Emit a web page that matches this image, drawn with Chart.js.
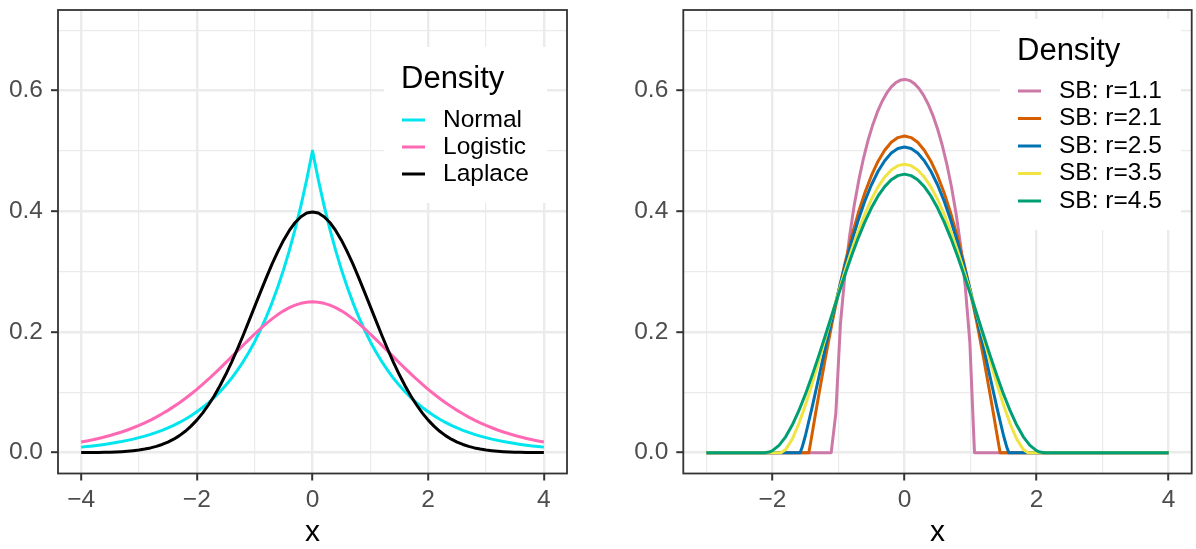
<!DOCTYPE html>
<html>
<head>
<meta charset="utf-8">
<script src="https://cdn.jsdelivr.net/npm/chart.js@4.4.1/dist/chart.umd.min.js"></script>
<style>
  html, body { margin: 0; padding: 0; background: #fff; }
  #wrap { position: relative; width: 1196px; height: 549px; }
  canvas { position: absolute; top: 0; }
  #cLeft { left: 0; }
  #cRight { left: 600px; }
</style>
</head>
<body>
<div id="wrap">
  <canvas id="cLeft" width="600" height="549"></canvas>
  <canvas id="cRight" width="596" height="549"></canvas>
</div>
<script>
// ---- data: left panel (x grid and three densities) ----
const leftX = [-4,-3.9,-3.8,-3.7,-3.6,-3.5,-3.4,-3.3,-3.2,-3.1,-3,-2.9,-2.8,-2.7,-2.6,-2.5,-2.4,-2.3,-2.2,-2.1,
  -2,-1.9,-1.8,-1.7,-1.6,-1.5,-1.4,-1.3,-1.2,-1.1,-1,-0.9,-0.8,-0.7,-0.6,-0.5,-0.4,-0.3,-0.2,-0.1,
  0,0.1,0.2,0.3,0.4,0.5,0.6,0.7,0.8,0.9,1,1.1,1.2,1.3,1.4,1.5,1.6,1.7,1.8,1.9,
  2,2.1,2.2,2.3,2.4,2.5,2.6,2.7,2.8,2.9,3,3.1,3.2,3.3,3.4,3.5,3.6,3.7,3.8,3.9,4];

const normalY = [.0092,.0101,.0112,.0124,.0137,.0151,.0167,.0184,.0204,.0225,.0249,.0275,.0304,.0336,.0371,.0410,.0454,.0501,.0554,.0612,
  .0677,.0748,.0826,.0913,.1009,.1116,.1233,.1363,.1506,.1664,.1839,.2033,.2247,.2483,.2744,.3033,.3352,.3704,.4094,.4524,
  .5000,
  .4524,.4094,.3704,.3352,.3033,.2744,.2483,.2247,.2033,.1839,.1664,.1506,.1363,.1233,.1116,.1009,.0913,.0826,.0748,.0677,
  .0612,.0554,.0501,.0454,.0410,.0371,.0336,.0304,.0275,.0249,.0225,.0204,.0184,.0167,.0151,.0137,.0124,.0112,.0101,.0092];

const logisticY = [.0177,.0195,.0214,.0236,.0259,.0285,.0313,.0343,.0376,.0413,.0452,.0494,.0540,.0590,.0644,.0701,.0763,.0828,.0898,.0972,
  .1050,.1132,.1217,.1306,.1398,.1491,.1587,.1683,.1779,.1874,.1966,.2055,.2139,.2217,.2288,.2350,.2403,.2445,.2475,.2494,
  .2500,
  .2494,.2475,.2445,.2403,.2350,.2288,.2217,.2139,.2055,.1966,.1874,.1779,.1683,.1587,.1491,.1398,.1306,.1217,.1132,.1050,
  .0972,.0898,.0828,.0763,.0701,.0644,.0590,.0540,.0494,.0452,.0413,.0376,.0343,.0313,.0285,.0259,.0236,.0214,.0195,.0177];

const laplaceY = [.0001,.0002,.0003,.0004,.0006,.0009,.0012,.0017,.0024,.0033,.0044,.0060,.0079,.0104,.0136,.0175,.0224,.0283,.0355,.0440,
  .0540,.0656,.0790,.0940,.1109,.1295,.1497,.1714,.1942,.2179,.2420,.2661,.2897,.3123,.3332,.3521,.3683,.3814,.3910,.3970,
  .3989,
  .3970,.3910,.3814,.3683,.3521,.3332,.3123,.2897,.2661,.2420,.2179,.1942,.1714,.1497,.1295,.1109,.0940,.0790,.0656,.0540,
  .0440,.0355,.0283,.0224,.0175,.0136,.0104,.0079,.0060,.0044,.0033,.0024,.0017,.0012,.0009,.0006,.0004,.0003,.0002,.0001];

// ---- data: right panel (SB densities) ----
const sb11X = [-3,-1.11,-1.04,-0.97,-0.9,-0.83,-0.76,-0.69,-0.62,-0.55,-0.48,-0.41,-0.34,-0.27,-0.2,-0.13,-0.06,
  0.01,0.08,0.15,0.22,0.29,0.36,0.43,0.5,0.57,0.64,0.71,0.78,0.85,0.92,0.99,1.06,4];
const sb11Y = [0,0,.0652,.2136,.2971,.3599,.4107,.4528,.4882,.5182,.5435,.5646,.5819,.5956,.6060,.6133,.6174,
  .6185,.6165,.6115,.6034,.5920,.5773,.5590,.5367,.5102,.4787,.4415,.3972,.3435,.2760,.1827,0,0];

const sb21X = [-3,-1.4491,-1.43,-1.4,-1.35,-1.3,-1.2,-1.1,-1,-0.9,-0.8,-0.7,-0.6,-0.5,-0.4,-0.3,-0.2,-0.1,
  0,0.1,0.2,0.3,0.4,0.5,0.6,0.7,0.8,0.9,1,1.1,1.2,1.3,1.35,1.4,1.43,1.4491,4];
const sb21Y = [0,0,.0115,.0306,.0627,.0944,.1557,.2131,.2661,.3146,.3583,.3970,.4307,.4594,.4829,.5012,.5143,.5221,
  .5248,.5221,.5143,.5012,.4829,.4594,.4307,.3970,.3583,.3146,.2661,.2131,.1557,.0944,.0627,.0306,.0115,0,0];

const sb25X = [-3,-1.5811,-1.55,-1.5,-1.4,-1.3,-1.2,-1.1,-1,-0.9,-0.8,-0.7,-0.6,-0.5,-0.4,-0.3,-0.2,-0.1,
  0,0.1,0.2,0.3,0.4,0.5,0.6,0.7,0.8,0.9,1,1.1,1.2,1.3,1.4,1.5,1.55,1.5811,4];
const sb25Y = [0,0,.0088,.0285,.0746,.1238,.1733,.2215,.2675,.3105,.3500,.3856,.4171,.4440,.4663,.4838,.4964,.5040,
  .5065,.5040,.4964,.4838,.4663,.4440,.4171,.3856,.3500,.3105,.2675,.2215,.1733,.1238,.0746,.0285,.0088,0,0];

const sb35X = [-3,-1.8708,-1.8,-1.7,-1.6,-1.5,-1.4,-1.3,-1.2,-1.1,-1,-0.9,-0.8,-0.7,-0.6,-0.5,-0.4,-0.3,-0.2,-0.1,
  0,0.1,0.2,0.3,0.4,0.5,0.6,0.7,0.8,0.9,1,1.1,1.2,1.3,1.4,1.5,1.6,1.7,1.8,1.8708,4];
const sb35Y = [0,0,.0051,.0225,.0479,.0789,.1136,.1507,.1891,.2275,.2653,.3016,.3357,.3671,.3953,.4199,.4404,.4567,.4685,.4756,
  .4780,.4756,.4685,.4567,.4404,.4199,.3953,.3671,.3357,.3016,.2653,.2275,.1891,.1507,.1136,.0789,.0479,.0225,.0051,0,0];

const sb45X = [-3,-2.1213,-2.05,-2,-1.9,-1.8,-1.7,-1.6,-1.5,-1.4,-1.3,-1.2,-1.1,-1,-0.9,-0.8,-0.7,-0.6,-0.5,-0.4,-0.3,-0.2,-0.1,
  0,0.1,0.2,0.3,0.4,0.5,0.6,0.7,0.8,0.9,1,1.1,1.2,1.3,1.4,1.5,1.6,1.7,1.8,1.9,2,2.05,2.1213,4];
const sb45Y = [0,0,.0010,.0033,.0120,.0263,.0457,.0695,.0970,.1274,.1600,.1938,.2281,.2622,.2953,.3268,.3560,.3825,.4058,.4254,.4409,.4523,.4591,
  .4615,.4591,.4523,.4409,.4254,.4058,.3825,.3560,.3268,.2953,.2622,.2281,.1938,.1600,.1274,.0970,.0695,.0457,.0263,.0120,.0033,.0010,0,0];

// ---- ticks / labels ----
const yMajor = [0, 0.2, 0.4, 0.6];
const yMinor = [0.1, 0.3, 0.5, 0.7];
const leftXMajor = [-4, -2, 0, 2, 4];
const leftXMinor = [-3, -1, 1, 3];
const rightXMajor = [-2, 0, 2, 4];
const rightXMinor = [-3, -1, 1, 3];
const leftLabels = ['Normal', 'Logistic', 'Laplace'];
const rightLabels = ['SB: r=1.1', 'SB: r=2.1', 'SB: r=2.5', 'SB: r=3.5', 'SB: r=4.5'];
const legendTitle = 'Density';
const axisTitle = 'x';

const leftColors = ['#00E5EE', '#FF69B4', '#000000'];
const rightColors = ['#CC79A7', '#D55E00', '#0072B2', '#F0E442', '#009E73'];

const FONT = '"Liberation Sans", Arial, Helvetica, sans-serif';
const LW = 3;

const zip = (xs, ys) => xs.map((x, i) => ({ x, y: ys[i] }));
const fmtX = v => (v < 0 ? '\u2212' + Math.abs(v) : String(v));

// 面板边框、图例、x 轴标题
const panelDecor = {
  id: 'panelDecor',
  afterDatasetsDraw(chart, args, o) {
    const { ctx, chartArea: a } = chart;
    ctx.save();
    const L = o.legend;
    ctx.fillStyle = '#ffffff';
    ctx.fillRect(L.x, L.y, L.w, L.h);
    ctx.fillStyle = '#000';
    ctx.font = `31px ${FONT}`;
    ctx.textBaseline = 'alphabetic';
    ctx.textAlign = 'left';
    ctx.fillText(legendTitle, L.titleX, L.titleY);
    ctx.font = `24.5px ${FONT}`;
    ctx.textBaseline = 'middle';
    L.labels.forEach((lab, i) => {
      const yy = L.row0 + i * L.gap;
      ctx.strokeStyle = L.colors[i];
      ctx.lineWidth = LW;
      ctx.beginPath();
      ctx.moveTo(L.keyX, yy);
      ctx.lineTo(L.keyX + 23, yy);
      ctx.stroke();
      ctx.fillStyle = '#000';
      ctx.fillText(lab, L.textX, yy);
    });
    // x title
    ctx.font = `30px ${FONT}`;
    ctx.textAlign = 'center';
    ctx.textBaseline = 'alphabetic';
    ctx.fillText(axisTitle, (a.left + a.right) / 2, 541);
    // border
    ctx.strokeStyle = '#333333';
    ctx.lineWidth = 1.8;
    ctx.strokeRect(a.left, a.top, a.right - a.left, a.bottom - a.top);
    ctx.restore();
  }
};

function makeScales(xMin, xMax, xMajor, xMinor, yWidth) {
  const xAll = xMajor.concat(xMinor).sort((p, q) => p - q);
  const yAll = yMajor.concat(yMinor).sort((p, q) => p - q);
  const grid = majors => ({
    color: '#EBEBEB',
    lineWidth: c => (majors.includes(c.tick.value) ? 2.4 : 1.2),
    tickColor: c => (majors.includes(c.tick.value) ? '#333333' : 'rgba(0,0,0,0)'),
    tickWidth: 2,
    tickLength: 7,
    drawTicks: true
  });
  return {
    x: {
      type: 'linear', min: xMin, max: xMax,
      afterBuildTicks: s => { s.ticks = xAll.map(v => ({ value: v })); },
      afterFit: s => { s.height = 75.5; s.paddingLeft = 0; s.paddingRight = 0; },
      ticks: {
        autoSkip: false, maxRotation: 0, padding: 5, color: '#4D4D4D',
        font: { family: FONT, size: 24.5 },
        callback: v => (xMajor.includes(v) ? fmtX(v) : '')
      },
      grid: grid(xMajor),
      border: { display: false }
    },
    y: {
      type: 'linear', min: -0.0345, max: 0.7335,
      afterBuildTicks: s => { s.ticks = yAll.map(v => ({ value: v })); },
      afterFit: s => { s.width = yWidth; s.paddingTop = 0; s.paddingBottom = 0; },
      ticks: {
        autoSkip: false, padding: 8, color: '#4D4D4D',
        font: { family: FONT, size: 24.5 },
        callback: v => (yMajor.includes(v) ? v.toFixed(1) : '')
      },
      grid: grid(yMajor),
      border: { display: false }
    }
  };
}

const lineDs = (data, color, order) => ({
  data, borderColor: color, borderWidth: LW, pointRadius: 0, tension: 0,
  borderJoinStyle: 'round', fill: false, order
});

new Chart(document.getElementById('cLeft'), {
  type: 'line',
  data: {
    datasets: [
      lineDs(zip(leftX, normalY), leftColors[0], 2),
      lineDs(zip(leftX, logisticY), leftColors[1], 1),
      lineDs(zip(leftX, laplaceY), leftColors[2], 0)
    ]
  },
  options: {
    responsive: false, animation: false,
    layout: { padding: { left: 0, right: 33, top: 10, bottom: 0 } },
    plugins: {
      legend: { display: false }, tooltip: { enabled: false },
      panelDecor: {
        legend: { x: 384, y: 47, w: 163, h: 156, titleX: 401, titleY: 88,
          keyX: 402, textX: 443, row0: 120, gap: 27, labels: leftLabels, colors: leftColors }
      }
    },
    scales: makeScales(-4.4, 4.4, leftXMajor, leftXMinor, 58)
  },
  plugins: [panelDecor]
});

new Chart(document.getElementById('cRight'), {
  type: 'line',
  data: {
    datasets: [
      lineDs(zip(sb11X, sb11Y), rightColors[0], 4),
      lineDs(zip(sb21X, sb21Y), rightColors[1], 3),
      lineDs(zip(sb25X, sb25Y), rightColors[2], 2),
      lineDs(zip(sb35X, sb35Y), rightColors[3], 1),
      lineDs(zip(sb45X, sb45Y), rightColors[4], 0)
    ]
  },
  options: {
    responsive: false, animation: false,
    layout: { padding: { left: 0, right: 4.3, top: 10, bottom: 0 } },
    plugins: {
      legend: { display: false }, tooltip: { enabled: false },
      panelDecor: {
        legend: { x: 400, y: 19, w: 181, h: 211, titleX: 417, titleY: 60,
          keyX: 418, textX: 459, row0: 91, gap: 27.5, labels: rightLabels, colors: rightColors }
      }
    },
    scales: makeScales(-3.35, 4.35, rightXMajor, rightXMinor, 83.3)
  },
  plugins: [panelDecor]
});
</script>
</body>
</html>
